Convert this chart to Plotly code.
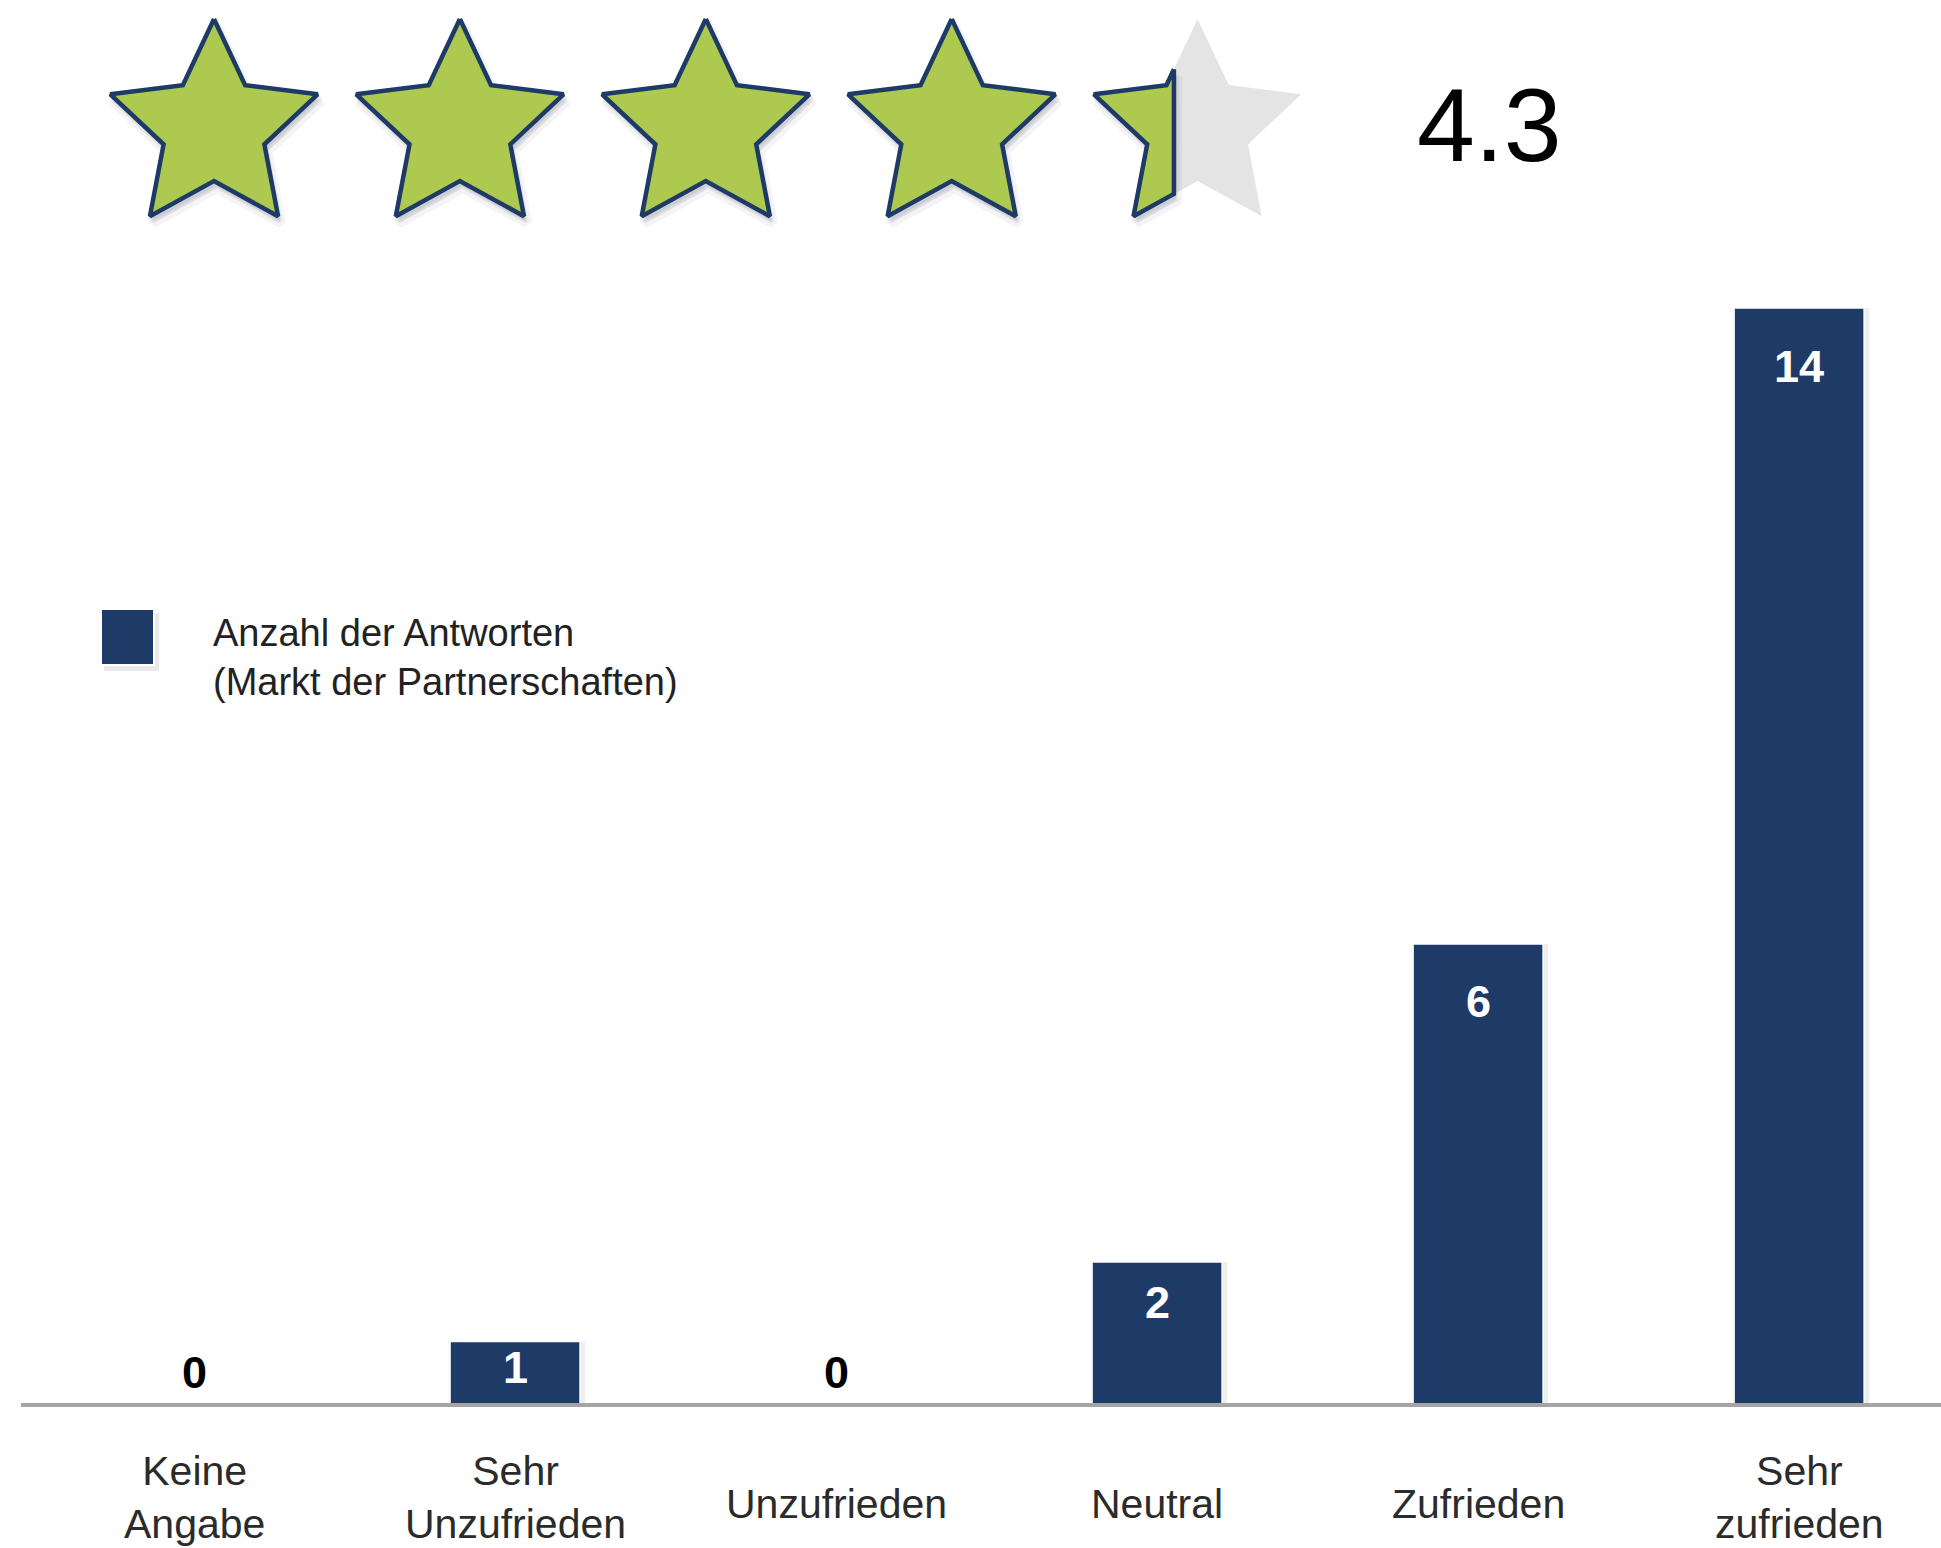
import math
import plotly.graph_objects as go

# ---------------- data ----------------
categories = ["Keine Angabe", "Sehr Unzufrieden", "Unzufrieden", "Neutral", "Zufrieden", "Sehr zufrieden"]
tick_labels = ["Keine<br>Angabe", "Sehr<br>Unzufrieden", "Unzufrieden", "Neutral", "Zufrieden", "Sehr<br>zufrieden"]
counts = [0, 1, 0, 2, 6, 14]
series_name = "Anzahl der Antworten<br>(Markt der Partnerschaften)"
rating = 4.3
max_stars = 5

# ---------------- style / geometry ----------------
W, H = 1941, 1548
NAVY = "#1e3a66"
GREEN = "#adc94f"
GREY_STAR = "#e4e4e4"
FONT = "Liberation Sans, Arial, Helvetica, sans-serif"

def px_x(px):
    return px / W

def px_y(py):
    return 1 - py / H

baseline_px = 1403
top_px = 150
left_px = 21
px_per_unit = 79.5
y_lo = 0.226
y_hi = y_lo + (baseline_px - top_px) / px_per_unit
x_range = [-0.539, 5.442]
BAR_W = 0.405

fig = go.Figure()

# ---------------- bars ----------------
# soft shadow behind bars
fig.add_trace(go.Bar(
    x=categories, y=counts, width=BAR_W + 0.02, offset=-BAR_W / 2 - 0.004,
    marker=dict(color="rgba(40,40,70,0.08)", line=dict(width=0)),
    showlegend=False, hoverinfo="skip", xaxis="x", yaxis="y",
))
fig.add_trace(go.Bar(
    x=categories, y=counts, name=series_name.replace("<br>", " "),
    width=BAR_W, offset=-BAR_W / 2,
    marker=dict(color=NAVY, line=dict(color="white", width=1.5)),
    showlegend=False, hoverinfo="x+y",
    xaxis="x", yaxis="y",
))

annotations = []
for cat, v in zip(categories, counts):
    if v > 0:
        annotations.append(dict(
            x=cat, y=v - 0.74 * (1 - math.exp(-v / 1.7)), xref="x", yref="y",
            text=str(v), showarrow=False, xanchor="center", yanchor="middle",
            font=dict(family=FONT, size=45, color="white", weight="bold"),
        ))
    else:
        annotations.append(dict(
            x=cat, y=y_lo, xref="x", yref="y", yshift=31,
            text=str(v), showarrow=False, xanchor="center", yanchor="middle",
            font=dict(family=FONT, size=45, color="black", weight="bold"),
        ))

# category labels
for cat, lab in zip(categories, tick_labels):
    n_lines = lab.count("<br>") + 1
    annotations.append(dict(
        x=cat, xref="x", yref="paper", y=px_y(1504 - 7 * (n_lines - 1)),
        text=lab, showarrow=False, xanchor="center", yanchor="middle",
        align="center", font=dict(family=FONT, size=41, color="#2b2b2b"),
    ))

# legend (drawn manually)
shapes = [
    dict(type="rect", xref="paper", yref="paper",
         x0=px_x(104), x1=px_x(159), y0=px_y(671), y1=px_y(613),
         fillcolor="rgba(40,40,70,0.10)", line=dict(width=0), layer="below"),
    dict(type="rect", xref="paper", yref="paper",
         x0=px_x(101), x1=px_x(154), y0=px_y(665), y1=px_y(609),
         fillcolor=NAVY, line=dict(color="white", width=2)),
]
annotations.append(dict(
    x=px_x(211), y=px_y(657), xref="paper", yref="paper",
    text=series_name, showarrow=False, xanchor="left", yanchor="middle",
    align="left", font=dict(family=FONT, size=38, color="#222222"),
))

# rating value
annotations.append(dict(
    x=px_x(1489), y=px_y(125), xref="paper", yref="paper",
    text=f"{rating:.1f}", showarrow=False, xanchor="center", yanchor="middle",
    font=dict(family=FONT, size=104, color="black"),
))

# ---------------- stars (pixel axes x2/y2) ----------------
R_OUT = 109
R_IN = 53
STAR_CY = 128
STAR_CX0 = 214
STAR_STEP = 245.9

def star_poly(cx, cy):
    pts = []
    for k in range(10):
        a = math.radians(90 + 36 * k)
        r = R_OUT if k % 2 == 0 else R_IN
        pts.append((cx + r * math.cos(a), cy - r * math.sin(a)))
    return pts

def clip(poly, xc, keep_left):
    out = []
    n = len(poly)
    for i in range(n):
        p, q = poly[i], poly[(i + 1) % n]
        pin = p[0] <= xc if keep_left else p[0] >= xc
        qin = q[0] <= xc if keep_left else q[0] >= xc
        if pin:
            out.append(p)
        if pin != qin:
            t = (xc - p[0]) / (q[0] - p[0])
            out.append((xc, p[1] + t * (q[1] - p[1])))
    return out

def area(poly):
    s = 0.0
    for i in range(len(poly)):
        x1, y1 = poly[i]
        x2, y2 = poly[(i + 1) % len(poly)]
        s += x1 * y2 - x2 * y1
    return abs(s) / 2

def add_poly(poly, fill, line_color=None, line_width=0, dx=0, dy=0):
    xs = [p[0] + dx for p in poly] + [poly[0][0] + dx]
    ys = [p[1] + dy for p in poly] + [poly[0][1] + dy]
    fig.add_trace(go.Scatter(
        x=xs, y=ys, mode="lines", fill="toself", fillcolor=fill,
        line=dict(color=line_color or "rgba(0,0,0,0)", width=line_width),
        hoverinfo="skip", showlegend=False, xaxis="x2", yaxis="y2",
    ))

def add_shadow(poly):
    add_poly(poly, "rgba(40,40,70,0.06)", "rgba(40,40,70,0.05)", 10, dx=3, dy=7)
    add_poly(poly, "rgba(40,40,70,0.08)", "rgba(40,40,70,0.06)", 5, dx=2, dy=5)

for i in range(max_stars):
    cx = STAR_CX0 + STAR_STEP * i
    poly = star_poly(cx, STAR_CY)
    frac = max(0.0, min(1.0, rating - i))
    if frac >= 1:
        add_shadow(poly)
        add_poly(poly, GREEN, NAVY, 4.5)
    else:
        total = area(poly)
        lo, hi = cx - R_OUT, cx + R_OUT
        for _ in range(60):
            mid = (lo + hi) / 2
            if area(clip(poly, mid, True)) / total < frac:
                lo = mid
            else:
                hi = mid
        xc = (lo + hi) / 2
        right = clip(poly, xc, False)
        add_poly(right, GREY_STAR)
        if frac > 0:
            left = clip(poly, xc, True)
            add_shadow(left)
            add_poly(left, GREEN, NAVY, 4.5)

# ---------------- layout ----------------
fig.update_layout(
    width=W, height=H,
    margin=dict(l=0, r=0, t=0, b=0),
    paper_bgcolor="white", plot_bgcolor="rgba(0,0,0,0)",
    showlegend=False,
    barmode="overlay",
    xaxis=dict(
        type="category", domain=[px_x(left_px), 1], range=x_range,
        showline=True, linecolor="#a5a5a5", linewidth=4,
        showticklabels=False, ticks="", showgrid=False, zeroline=False,
        fixedrange=True, anchor="y",
    ),
    yaxis=dict(
        domain=[px_y(baseline_px), px_y(top_px)], range=[y_lo, y_hi],
        visible=False, showgrid=False, zeroline=False, fixedrange=True, anchor="x",
    ),
    xaxis2=dict(domain=[0, 1], range=[0, W], visible=False, fixedrange=True, anchor="y2"),
    yaxis2=dict(domain=[0, 1], range=[H, 0], visible=False, fixedrange=True, anchor="x2"),
    annotations=annotations,
    shapes=shapes,
)

fig.write_html("out.html")
